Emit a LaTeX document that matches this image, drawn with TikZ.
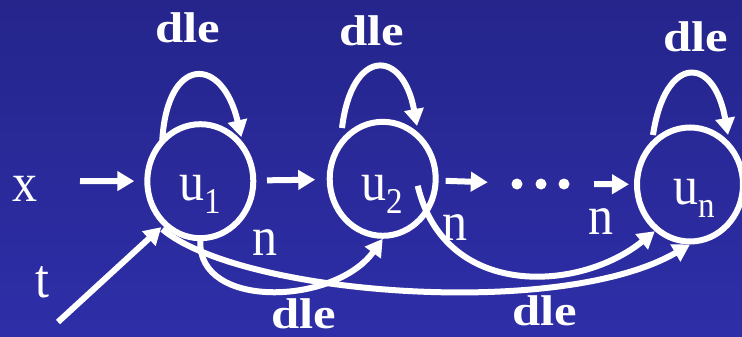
\documentclass[tikz,border=0pt]{standalone}
\usepackage{fontspec}
\setmainfont{Liberation Serif}
\usetikzlibrary{arrows.meta,shapes.geometric,calc}
\definecolor{bgtop}{RGB}{37,37,140}
\definecolor{bgbot}{RGB}{46,46,168}
\newcommand{\usub}[1]{\raisebox{-12pt}{\fontsize{33}{33}\selectfont #1}}
\begin{document}
\begin{tikzpicture}[x=1pt,y=-1pt,
  st/.style={ellipse,draw=white,line width=6pt,minimum width=106pt,minimum height=114pt,inner sep=0pt},
  arr/.style={draw=white,line width=6pt,-{Triangle[length=17pt,width=19pt]}},
  reg/.style={text=white,font=\fontsize{50}{50}\selectfont,yscale=1.1,inner sep=0pt,anchor=base},
  bld/.style={text=white,font=\fontsize{43}{43}\selectfont\bfseries,xscale=1.18,inner sep=0pt,anchor=base}]
\useasboundingbox (0,0) rectangle (742,337);
\shade[top color=bgtop,bottom color=bgbot] (0,0) rectangle (742,337);

% states
\node[st] (u1) at (200.3,181.2) {};
\node[st] (u2) at (382.7,178.8) {};
\node[st] (un) at (690,184.5) {};
\node[inner sep=0pt,minimum width=106pt,minimum height=12pt] (dots) at (541,184) {};
\fill[white] ($(dots)+(-24,0)$) circle[radius=5.5pt];
\fill[white] (dots) circle[radius=5.5pt];
\fill[white] ($(dots)+(23,0)$) circle[radius=5.5pt];

% state labels
\node[reg,anchor=base west] (l1) at (179,200) {u\usub{1}};
\node[reg,anchor=base west] (l2) at (361,200) {u\usub{2}};
\node[reg,anchor=base west] (ln) at (673,204) {u\usub{n}};

% inputs
\node[reg] (xl) at (25,201) {x};
\node[reg] (tl) at (42,297) {t};
\coordinate (xs) at (80,181);
\coordinate (ts) at (58,322);
\draw[arr,shorten >=10pt] (xs) -- (u1);
\draw[arr] (ts) -- ($(u1)+(-39,46)$);

% chain
\draw[arr,shorten <=10.7pt,shorten >=11.5pt] (u1) -- (u2);
\draw[arr,shorten <=7pt] (u2) -- (dots);
\draw[arr,shorten >=5pt] (dots) -- (un);

% self loops
\draw[arr] ($(u1)+(-38,-41)$) .. controls ($(u1)+(-33,-126)$) and ($(u1)+(22,-126)$) .. ($(u1)+(41,-44)$);
\draw[arr] ($(u2)+(-40.7,-50.8)$) .. controls ($(u2)+(-31,-131)$) and ($(u2)+(20,-131)$) .. ($(u2)+(34.3,-52.8)$);
\draw[arr] ($(un)+(-37,-49.5)$) .. controls ($(un)+(-25,-130)$) and ($(un)+(24,-130)$) .. ($(un)+(38,-49.5)$);

% long arcs
\draw[arr] (u1.south) .. controls (198,310) and (335,305) .. (u2.south);
\draw[arr] ($(u1)+(-38,48)$) .. controls (240,295) and (560,320) .. (un.south);
\draw[arr] ($(u2)+(35,7)$) .. controls (445,300) and (580,292) .. (un.233);

% edge labels
\node[bld] (d1) at (188,43) {dle};
\node[bld] (d2) at (372,46) {dle};
\node[bld] (d3) at (696,52) {dle};
\node[bld] (d4) at (304,328) {dle};
\node[bld] (d5) at (545,325) {dle};
\node[reg] (n1) at (265,255) {n};
\node[reg] (n2) at (455,240) {n};
\node[reg] (n3) at (601,234) {n};
\end{tikzpicture}
\end{document}
